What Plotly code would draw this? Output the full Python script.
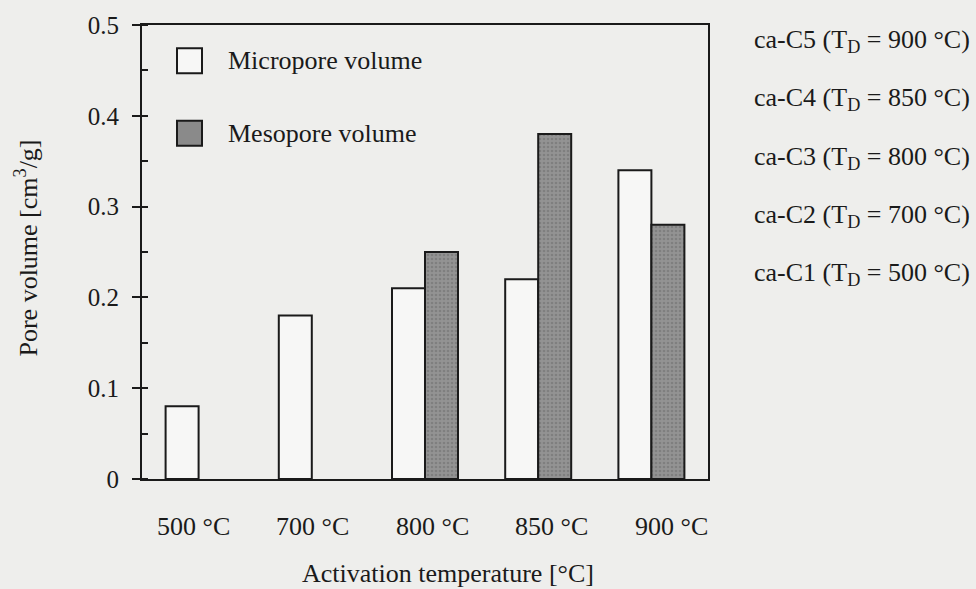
import plotly.graph_objects as go

# Activation temperatures (x categories) and measured pore volumes [cm3/g]
temperatures = ["500 °C", "700 °C", "800 °C", "850 °C", "900 °C"]
micropore_volume = [0.08, 0.18, 0.21, 0.22, 0.34]
mesopore_volume = [None, None, 0.25, 0.38, 0.28]

# Sample names listed beside the chart with their activation temperature
sample_names = ["ca-C5", "ca-C4", "ca-C3", "ca-C2", "ca-C1"]
sample_td = ["900", "850", "800", "700", "500"]

series_names = ["Micropore volume", "Mesopore volume"]

FONT = "Liberation Serif, Times New Roman, serif"
BG = "#eeeeec"
INK = "#1a1a1a"
MICRO_FILL = "#f7f7f6"
MESO_FILL = "#8a8a8a"

W, H = 976, 589
ML, MR, MT, MB = 142, 268, 22, 110
PW, PH = W - ML - MR, H - MT - MB

def px_x(x):
    return (x - ML) / PW

def px_y(y):
    return 1 - (y - MT) / PH

fig = go.Figure()
fig.add_trace(go.Bar(
    x=temperatures, y=micropore_volume, name=series_names[0],
    marker=dict(color=MICRO_FILL, line=dict(color=INK, width=2)),
))
fig.add_trace(go.Bar(
    x=temperatures, y=mesopore_volume, name=series_names[1],
    marker=dict(color=MESO_FILL, line=dict(color=INK, width=2),
                pattern=dict(shape=".", fgcolor="#6c6c6c", bgcolor="#939393",
                             size=4, solidity=0.35)),
))

annotations = []
shapes = []

# x tick labels, evenly spaced under the groups
label_x0, label_step = 193, 119.5
for i, t in enumerate(temperatures):
    annotations.append(dict(
        x=px_x(label_x0 + label_step * i), y=px_y(527), xref="paper", yref="paper",
        text=t, showarrow=False, xanchor="center", yanchor="middle",
        font=dict(family=FONT, size=26, color=INK)))

# axis titles
annotations.append(dict(
    x=px_x(448), y=px_y(574), xref="paper", yref="paper",
    text="Activation temperature [°C]", showarrow=False,
    xanchor="center", yanchor="middle", font=dict(family=FONT, size=26, color=INK)))
annotations.append(dict(
    x=px_x(27), y=px_y(247), xref="paper", yref="paper",
    text="Pore volume [cm<sup>3</sup>/g]", showarrow=False, textangle=-90,
    xanchor="center", yanchor="middle", font=dict(family=FONT, size=26, color=INK)))

# in-plot key
key_fills = [MICRO_FILL, MESO_FILL]
key_y = [58, 131]
for name, fill, yc in zip(series_names, key_fills, key_y):
    shapes.append(dict(
        type="rect", xref="paper", yref="paper",
        x0=px_x(177), x1=px_x(202), y0=px_y(yc - 12.5), y1=px_y(yc + 12.5),
        fillcolor=fill, line=dict(color=INK, width=2)))
    annotations.append(dict(
        x=px_x(226), y=px_y(yc), xref="paper", yref="paper", text=name,
        showarrow=False, xanchor="left", yanchor="middle",
        font=dict(family=FONT, size=26, color=INK)))

# sample list on the right
list_y0, list_step = 38, 58.75
for i, (s, td) in enumerate(zip(sample_names, sample_td)):
    annotations.append(dict(
        x=px_x(752), y=px_y(list_y0 + list_step * i), xref="paper", yref="paper",
        text=f"{s} (T<sub>D</sub> = {td} °C)", showarrow=False,
        xanchor="left", yanchor="middle",
        font=dict(family=FONT, size=26, color=INK)))

fig.update_layout(
    width=W, height=H,
    margin=dict(l=ML, r=MR, t=MT, b=MB, pad=0),
    paper_bgcolor=BG, plot_bgcolor=BG,
    barmode="group", bargap=0.417, bargroupgap=0,
    showlegend=False,
    font=dict(family=FONT, size=25, color=INK),
    annotations=annotations, shapes=shapes,
)
fig.update_xaxes(
    type="category", range=[-0.5, 4.5], showticklabels=False, ticks="",
    showline=True, linecolor=INK, linewidth=2, mirror=True, showgrid=False,
    zeroline=False,
)
fig.update_yaxes(
    range=[0, 0.5], dtick=0.1, tick0=0, ticks="outside", ticklen=8,
    tickwidth=1.5, tickcolor=INK, showline=True, linecolor=INK, linewidth=2,
    mirror=True, showgrid=False, zeroline=False, ticklabelstandoff=8,
    tickfont=dict(family=FONT, size=25, color=INK),
    minor=dict(dtick=0.05, ticks="inside", ticklen=6, tickwidth=1.5,
               tickcolor=INK, showgrid=False),
)

fig.write_html("out.html")
